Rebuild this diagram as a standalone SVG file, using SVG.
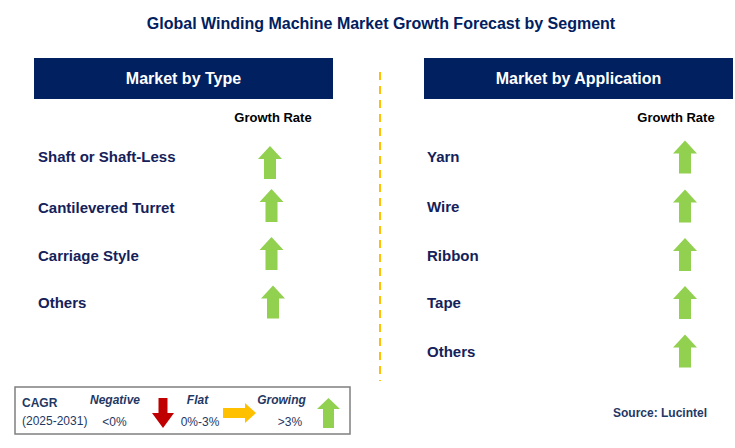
<svg xmlns="http://www.w3.org/2000/svg" width="735" height="448" viewBox="0 0 735 448">
<style>
.title{font-family:"Liberation Sans",Arial,sans-serif;font-weight:bold;font-size:16px;fill:#002060}
.hdr{font-family:"Liberation Sans",Arial,sans-serif;font-weight:bold;font-size:16px;fill:#ffffff}
.hbox{fill:#002060}
.gr{font-family:"Liberation Sans",Arial,sans-serif;font-weight:bold;font-size:13px;fill:#000000}
.lbl{font-family:"Liberation Sans",Arial,sans-serif;font-weight:bold;font-size:15px;fill:#14215A}
.up{fill:#92D050}
.lg{font-family:"Liberation Sans",Arial,sans-serif;font-size:12px;fill:#1F3864}
.lgb{font-family:"Liberation Sans",Arial,sans-serif;font-size:12px;font-weight:bold;fill:#1F3864}
.lgi{font-family:"Liberation Sans",Arial,sans-serif;font-size:12px;font-weight:bold;font-style:italic;fill:#1F3864}
</style>
<defs>
<path id="uparrow" d="M0,-16.5 L12,-3.5 L6,-3.5 L6,16.5 L-6,16.5 L-6,-3.5 L-12,-3.5 Z"/>
</defs>
<rect width="735" height="448" fill="#ffffff"/>
<text class="title" x="381" y="29" text-anchor="middle">Global Winding Machine Market Growth Forecast by Segment</text>

<g id="connectors">
<line x1="380" y1="72" x2="380" y2="381" stroke="#FFC000" stroke-width="2" stroke-dasharray="8,6"/>
</g>

<g id="header-type">
<rect class="hbox" x="34" y="58" width="299" height="41"/>
<text class="hdr" x="183.5" y="84" text-anchor="middle">Market by Type</text>
<text class="gr" x="273" y="122" text-anchor="middle">Growth Rate</text>
</g>
<g id="header-application">
<rect class="hbox" x="424" y="58" width="309" height="41"/>
<text class="hdr" x="578.5" y="84" text-anchor="middle">Market by Application</text>
<text class="gr" x="676" y="122" text-anchor="middle">Growth Rate</text>
</g>

<g id="type-shaft">
<text class="lbl" x="38" y="162">Shaft or Shaft-Less</text>
<use href="#uparrow" class="up" transform="translate(270,162.5)"/>
</g>
<g id="type-cantilevered">
<text class="lbl" x="38" y="213">Cantilevered Turret</text>
<use href="#uparrow" class="up" transform="translate(271.5,205.5)"/>
</g>
<g id="type-carriage">
<text class="lbl" x="38" y="261">Carriage Style</text>
<use href="#uparrow" class="up" transform="translate(271.5,253.5)"/>
</g>
<g id="type-others">
<text class="lbl" x="38" y="308">Others</text>
<use href="#uparrow" class="up" transform="translate(273,302)"/>
</g>

<g id="app-yarn">
<text class="lbl" x="427" y="162">Yarn</text>
<use href="#uparrow" class="up" transform="translate(685,157)"/>
</g>
<g id="app-wire">
<text class="lbl" x="427" y="212">Wire</text>
<use href="#uparrow" class="up" transform="translate(685,206)"/>
</g>
<g id="app-ribbon">
<text class="lbl" x="427" y="261">Ribbon</text>
<use href="#uparrow" class="up" transform="translate(685,254.5)"/>
</g>
<g id="app-tape">
<text class="lbl" x="427" y="308">Tape</text>
<use href="#uparrow" class="up" transform="translate(685,302.5)"/>
</g>
<g id="app-others">
<text class="lbl" x="427" y="357">Others</text>
<use href="#uparrow" class="up" transform="translate(685,351)"/>
</g>

<g id="legend">
<rect x="15" y="387" width="335" height="47" fill="#ffffff" stroke="#7F7F7F" stroke-width="1.5"/>
<text class="lgb" x="22" y="407">CAGR</text>
<text class="lg" x="22" y="425">(2025-2031)</text>
<text class="lgi" x="115" y="404" text-anchor="middle">Negative</text>
<text class="lg" x="114.5" y="426" text-anchor="middle">&lt;0%</text>
<path d="M158.5,398 L167.5,398 L167.5,413 L174,413 L163,428 L152,413 L158.5,413 Z" fill="#C00000"/>
<text class="lgi" x="197.5" y="404" text-anchor="middle">Flat</text>
<text class="lg" x="200" y="426" text-anchor="middle">0%-3%</text>
<path d="M223,408 L245,408 L245,403 L256,413 L245,423 L245,418 L223,418 Z" fill="#FFC000"/>
<text class="lgi" x="281.5" y="404" text-anchor="middle">Growing</text>
<text class="lg" x="290" y="426" text-anchor="middle">&gt;3%</text>
<path d="M328.5,398 L340,409 L334,409 L334,428 L323,428 L323,409 L317,409 Z" fill="#92D050"/>
</g>

<text class="lgb" x="613" y="417">Source: Lucintel</text>
</svg>
